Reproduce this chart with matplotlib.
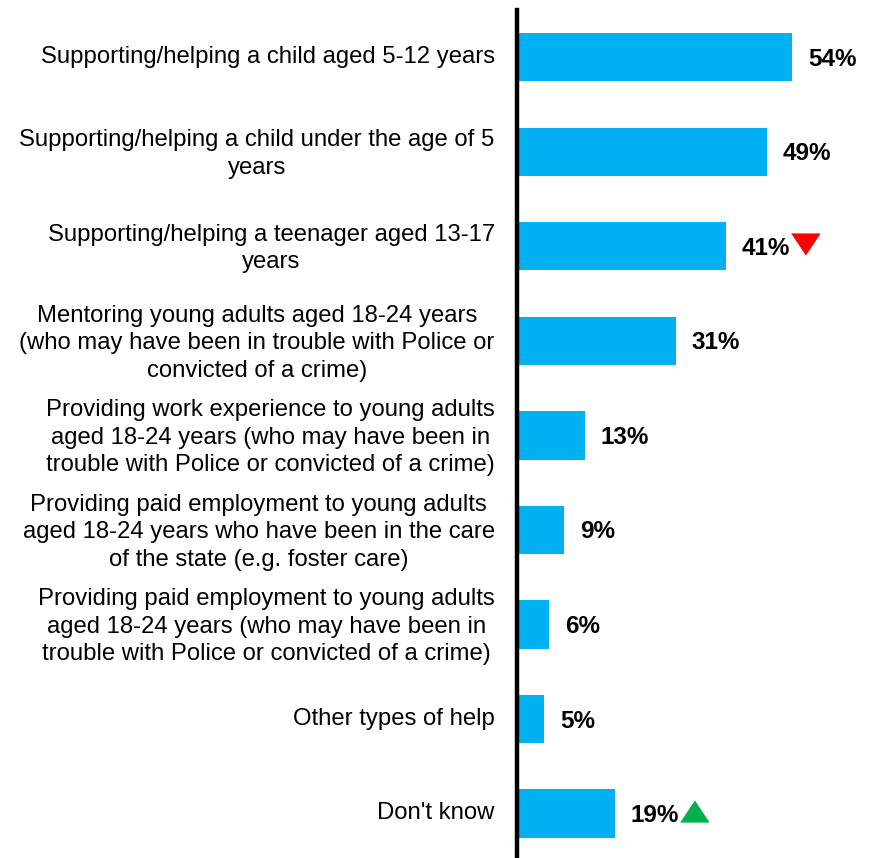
import matplotlib
matplotlib.use('AGG')
import matplotlib.pyplot as plt
from matplotlib.transforms import offset_copy, ScaledTranslation

labels = [
    "Supporting/helping a child aged 5-12 years",
    "Supporting/helping a child under the age of 5\nyears",
    "Supporting/helping a teenager aged 13-17\nyears",
    "Mentoring young adults aged 18-24 years\n(who may have been in trouble with Police or\nconvicted of a crime)",
    "Providing work experience to young adults\naged 18-24 years (who may have been in\ntrouble with Police or convicted of a crime)",
    "Providing paid employment to young adults\naged 18-24 years who have been in the care\nof the state (e.g. foster care)",
    "Providing paid employment to young adults\naged 18-24 years (who may have been in\ntrouble with Police or convicted of a crime)",
    "Other types of help",
    "Don't know",
]
values = [54, 49, 41, 31, 13, 9, 6, 5, 19]
# significance arrows: -1 down, 1 up, 0 none
changes = [0, 0, -1, 0, 0, 0, 0, 0, 1]

plt.rcParams['font.family'] = ['Liberation Sans', 'DejaVu Sans']

fig = plt.figure(figsize=(8.71, 8.58), dpi=100)
ax = fig.add_axes([517 / 871, 0, 354 / 871, 848 / 858])

pos = list(range(len(values)))
ax.barh(pos, values, height=0.51, color='#00B0F0', left=0.35)
ax.set_xlim(0, 70)
ax.set_ylim(8.47, -0.5)

for s in ['top', 'right', 'bottom']:
    ax.spines[s].set_visible(False)
ax.spines['left'].set_linewidth(3.2)
ax.spines['left'].set_color('black')
ax.set_xticks([])
ax.set_yticks(pos)
ax.set_yticklabels(labels, fontsize=17.2, multialignment='center', linespacing=1.32)
ax.tick_params(axis='y', length=0, pad=16)
# nudge the category labels up a little
shift = ScaledTranslation(0, 3 / 100, fig.dpi_scale_trans)
for lab in ax.get_yticklabels():
    lab.set_transform(lab.get_transform() + shift)

for i, v in enumerate(values):
    ax.annotate(f"{v}%", (v + 0.35, i), xytext=(16, -2), textcoords='offset pixels',
                ha='left', va='center', fontsize=17.5, fontweight='bold')
    if changes[i]:
        tr = offset_copy(ax.transData, fig=fig, x=79, y=2 if changes[i] < 0 else 3, units='dots')
        if changes[i] < 0:
            ax.plot(v + 0.35, i, marker=[(-1, 0.75), (1, 0.75), (0, -0.75)], markersize=20,
                    color='#FF0000', transform=tr, clip_on=False)
        else:
            ax.plot(v + 0.35, i, marker=[(-1, -0.75), (1, -0.75), (0, 0.75)], markersize=20,
                    color='#00B050', transform=tr, clip_on=False)

fig.savefig('out.png', dpi=100)
